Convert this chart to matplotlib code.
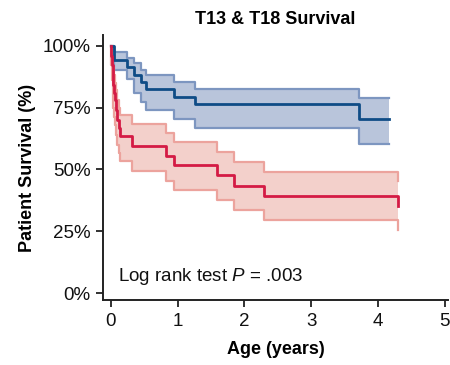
import numpy as np
import matplotlib
matplotlib.use("Agg")
import matplotlib.pyplot as plt

plt.rcParams['font.family'] = ['Liberation Sans', 'DejaVu Sans']
plt.rcParams['mathtext.fontset'] = 'custom'
plt.rcParams['mathtext.it'] = 'Liberation Sans:italic'
plt.rcParams['mathtext.rm'] = 'Liberation Sans'

# T13 group (blue)
t13_time = [0, 0.05, 0.24, 0.35, 0.46, 0.53, 0.94, 1.26, 3.71, 4.16]
t13_surv = [100, 94.1, 91.2, 88.2, 85.3, 82.4, 79.4, 76.3, 70.3, 70.3]
t13_upper = [100, 97.5, 95.0, 93.0, 90.3, 88.2, 85.2, 82.4, 78.8, 78.8]
t13_lower = [100, 90.0, 86.5, 81.0, 77.4, 74.1, 70.3, 66.7, 60.4, 60.4]

# T18 group (red)
t18_time = [0, 0.01, 0.02, 0.03, 0.04, 0.05, 0.06, 0.08, 0.10, 0.12, 0.14,
            0.32, 0.82, 0.94, 1.59, 1.85, 2.30, 4.30]
t18_surv = [100, 96, 92, 88, 84, 81, 78, 74, 70, 66.7, 63.3,
            59.6, 55.5, 51.9, 47.7, 43.4, 39.1, 35.1]
t18_upper = [100, 99, 97, 94, 91, 88, 85, 82, 78, 75, 72.1,
             68.4, 64.7, 60.9, 57.0, 53.0, 49.0, 45.2]
t18_lower = [100, 92, 86, 80, 75, 71, 68, 64, 60, 56.7, 53.2,
             49.2, 45.4, 41.8, 37.8, 33.7, 29.4, 25.7]

x_ticks = [0, 1, 2, 3, 4, 5]
y_ticks = [0, 25, 50, 75, 100]
y_ticklabels = ['0%', '25%', '50%', '75%', '100%']

fig = plt.figure(figsize=(4.5, 3.65), dpi=100)
ax = fig.add_axes([0.229, 0.178, 0.767, 0.726])

groups = [
    (t13_time, t13_surv, t13_upper, t13_lower, '#0f4c86', '#b9c5db', '#7d96c0'),
    (t18_time, t18_surv, t18_upper, t18_lower, '#d41b45', '#f3d0cb', '#eca39d'),
]
for tt, ss, up, lo, line_c, fill_c, edge_c in groups:
    ax.fill_between(tt, lo, up, step='post', color=fill_c, lw=0, zorder=1)
    ax.step(tt, up, where='post', color=edge_c, lw=1.6, zorder=2)
    ax.step(tt, lo, where='post', color=edge_c, lw=1.6, zorder=2)
    ax.step(tt, ss, where='post', color=line_c, lw=2.0, zorder=3)

ax.set_xlim(-0.115, 5.05)
ax.set_ylim(-2.8, 104.3)
ax.set_xticks(x_ticks)
ax.set_yticks(y_ticks)
ax.set_yticklabels(y_ticklabels)
ax.tick_params(labelsize=13.5, length=5, width=1.3, color='#222222',
               labelcolor='#111111', pad=4)

for side in ['top', 'right']:
    ax.spines[side].set_visible(False)
for side in ['left', 'bottom']:
    ax.spines[side].set_linewidth(1.4)
    ax.spines[side].set_color('#222222')

ax.set_title('T13 & T18 Survival', fontsize=13, fontweight='bold', pad=8)
ax.set_xlabel('Age (years)', fontsize=13, fontweight='bold', labelpad=8)
ax.set_ylabel('Patient Survival (%)', fontsize=13, fontweight='bold', labelpad=5)

ax.text(0.11, 6.9, 'Log rank test $P$ = .003', fontsize=13.5,
        va='center', ha='left', color='#111111')

fig.savefig('out.png', dpi=100)
